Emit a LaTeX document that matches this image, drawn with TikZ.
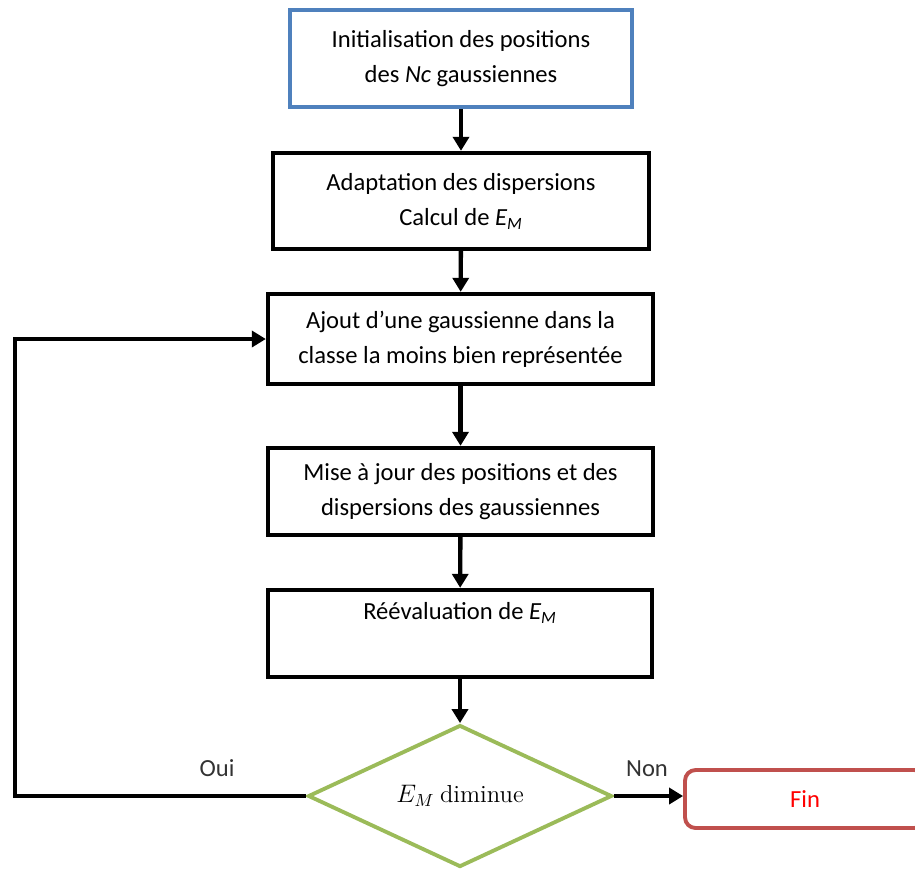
\documentclass[tikz,border=0pt]{standalone}
\usepackage{fontspec}
\setmainfont{Carlito}
\newfontfamily\serifmath{Latin Modern Roman}
\usetikzlibrary{arrows.meta,shapes.geometric}
\definecolor{bordbleu}{RGB}{79,129,189}
\definecolor{bordvert}{RGB}{155,187,89}
\definecolor{bordrouge}{RGB}{192,80,77}

\begin{document}
\begin{tikzpicture}[
    x=0.02cm, y=-0.02cm,
    font=\fontsize{14}{20}\selectfont,
    etape/.style={draw=black, line width=2.5pt, fill=white, align=center,
        inner sep=2pt, minimum width=7.7cm, minimum height=1.8cm},
    debut/.style={etape, draw=bordbleu, line width=2.2pt,
        minimum width=6.84cm, minimum height=1.94cm},
    test/.style={diamond, draw=bordvert, line width=2.2pt, inner sep=0pt,
        minimum width=6.08cm, minimum height=2.84cm, aspect=2.14},
    finbox/.style={draw=bordrouge, line width=2.2pt, rounded corners=6pt,
        minimum width=4.8cm, minimum height=1.16cm, text=red},
    reponse/.style={text=black!80},
    fleche/.style={-{Triangle[length=2.8mm,width=3.2mm]}, line width=2.5pt},
]
\useasboundingbox (0,0) rectangle (915,870);
\node[debut] (init) at (461,58.5)
  {Initialisation des positions\\des \textit{Nc} gaussiennes};
\node[etape, minimum width=7.52cm, minimum height=1.92cm] (adapt) at (461,201)
  {Adaptation des dispersions\\Calcul de \textit{E\textsubscript{M}}};
\node[etape] (ajout) at (460.5,339)
  {Ajout d’une gaussienne dans la\\classe la moins bien représentée};
\node[etape, minimum height=1.74cm] (maj) at (460.5,491.5)
  {Mise à jour des positions et des\\dispersions des gaussiennes};
\node[etape, minimum width=7.68cm, minimum height=1.74cm] (reeval) at (460,633.5)
  {Réévaluation de \textit{E\textsubscript{M}}\\[6pt]\mbox{}};
\node[test] (decision) at (460,796) {$E_M$ {\serifmath diminue}};
\node[finbox] (fin) at (805,799) {Fin};
\coordinate (coin) at (15,345);

\draw[fleche] (init) -- (adapt);
\draw[fleche] (adapt) -- (ajout);
\draw[fleche] (ajout) -- (maj);
\draw[fleche] (maj) -- (reeval);
\draw[fleche] (reeval) -- (decision);
\draw[fleche] (decision.east) -- (decision.east -| fin.west);
\draw[fleche] (decision.west) -| (coin) |- (ajout.west);

\node[reponse] (oui) at (217,768) {Oui};
\node[reponse] (non) at (647,769) {Non};
\end{tikzpicture}
\end{document}
